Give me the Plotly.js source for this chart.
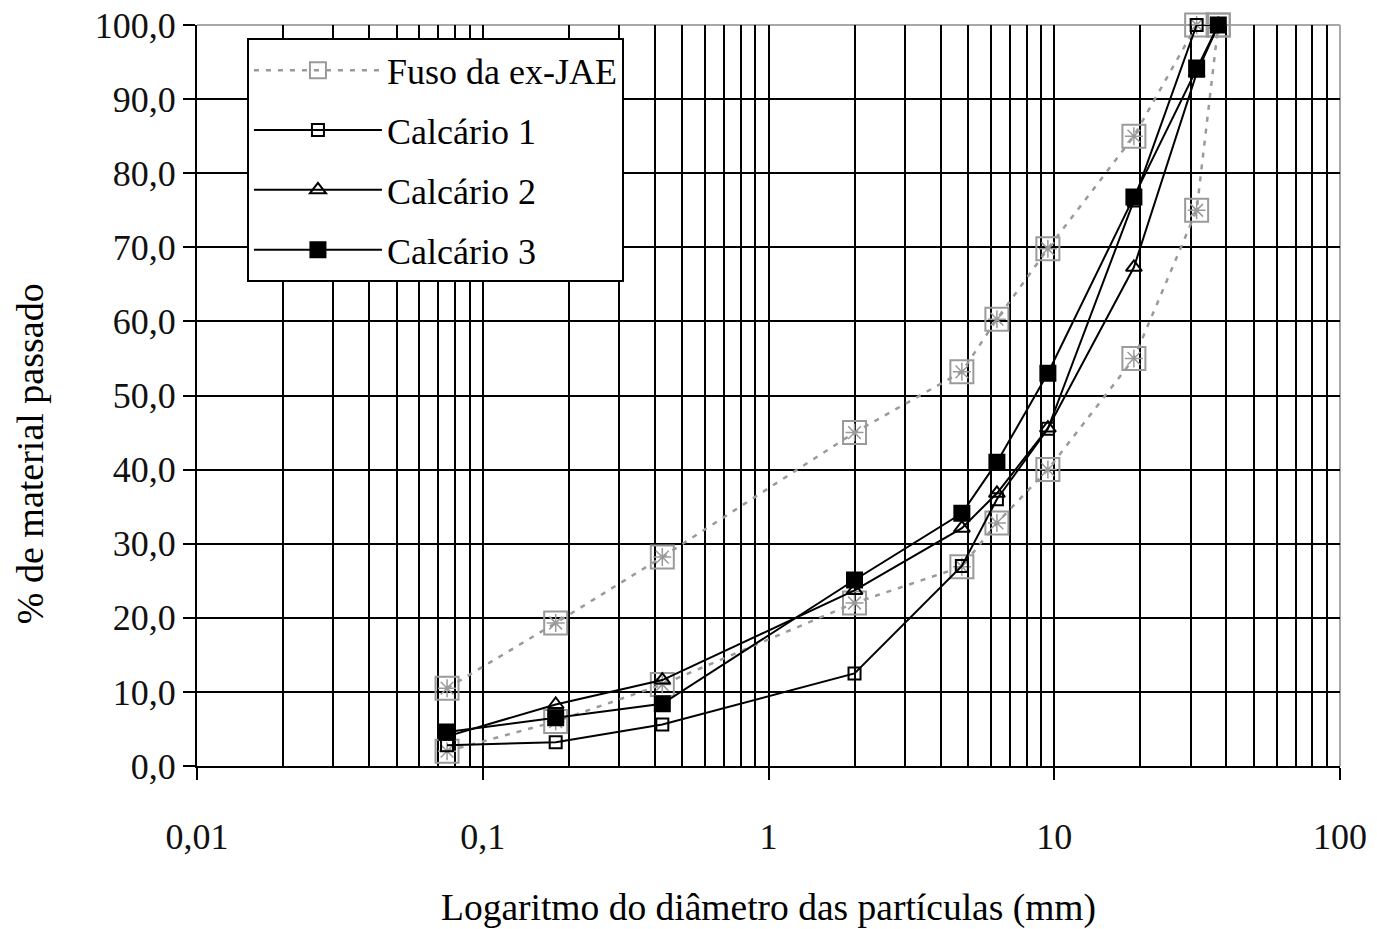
<!DOCTYPE html>
<html><head><meta charset="utf-8">
<script src="https://cdn.plot.ly/plotly-3.0.1.min.js"></script>
<style>html,body{margin:0;padding:0;background:#fff}#chart{width:1377px;height:929px}</style>
</head><body><div id="chart"></div>
<script>
// Sieve sizes (mm)
const sieves = [0.075, 0.18, 0.425, 2.0, 4.75, 6.3, 9.5, 19, 31.5, 37.5];
// Envelope (Fuso da ex-JAE)
const fusoUpper = [10.5, 19.3, 28.2, 45.0, 53.2, 60.3, 69.8, 85.0, 100, 100];
const fusoLower = [2.0, 6.0, 11.0, 22.0, 26.9, 32.8, 40.0, 55.0, 75.0, 100];
// Limestone gradings
const calc1 = [2.8, 3.2, 5.6, 12.5, 27.0, 36.0, 45.5, 76.3, 100, 100];
const calc2 = [4.0, 8.3, 11.6, 23.7, 32.1, 36.8, 45.6, 67.3, 93.5, 100];
const calc3 = [4.6, 6.5, 8.4, 25.1, 34.1, 41.0, 53.0, 76.8, 94.2, 100];
const seriesNames = ['Fuso da ex-JAE', 'Calcário 1', 'Calcário 2', 'Calcário 3'];
// Axis ticks
const xTickVals = [0.01, 0.1, 1, 10, 100];
const xTickText = ['0,01', '0,1', '1', '10', '100'];
const yTickVals = [0, 10, 20, 30, 40, 50, 60, 70, 80, 90, 100];
const yTickText = ['0,0', '10,0', '20,0', '30,0', '40,0', '50,0', '60,0', '70,0', '80,0', '90,0', '100,0'];
const xTitle = 'Logaritmo do diâmetro das partículas (mm)';
const yTitle = '% de material passado';

const gray = '#9a9a9a';
const serif = '"Liberation Serif", "Times New Roman", serif';

function fusoLine(y, show) {
  return {x: sieves, y: y, name: seriesNames[0], legendgroup: 'fuso', showlegend: show,
    mode: 'lines+markers', cliponaxis: false,
    line: {color: gray, width: 2.5, dash: '5px,7px'},
    marker: {symbol: 'square-open', size: 23, color: gray, line: {width: 2, color: gray}}};
}
function fusoStar(y) {
  return {x: sieves, y: y, mode: 'markers', showlegend: false, legendgroup: 'fuso', hoverinfo: 'skip',
    cliponaxis: false,
    marker: {symbol: 'asterisk-open', size: 15, color: gray, line: {width: 1.5, color: gray}}};
}
function calc(y, i, symbol, size) {
  return {x: sieves, y: y, name: seriesNames[i], legendgroup: 'c' + i, mode: 'lines+markers',
    cliponaxis: false,
    line: {color: '#000', width: 2},
    marker: {symbol: symbol, size: size, color: '#000', line: {width: 2, color: '#000'}}};
}

const data = [
  fusoLine(fusoUpper, true), fusoStar(fusoUpper),
  fusoLine(fusoLower, false), fusoStar(fusoLower),
  calc(calc1, 1, 'square-open', 12),
  calc(calc2, 2, 'triangle-up-open', 14),
  calc(calc3, 3, 'square', 15)
];

const layout = {
  width: 1377, height: 929,
  margin: {l: 197, r: 37, t: 25, b: 163},
  paper_bgcolor: '#fff', plot_bgcolor: '#fff',
  font: {family: serif, color: '#000'},
  showlegend: true,
  xaxis: {
    type: 'log', range: [-2, 2], tickmode: 'array', tickvals: xTickVals, ticktext: xTickText,
    ticks: 'outside', ticklen: 12, tickwidth: 2, tickcolor: '#000',
    showline: true, linecolor: '#000', linewidth: 2, zeroline: false,
    showgrid: true, gridcolor: '#000', gridwidth: 2,
    minor: {dtick: 'D1', showgrid: true, gridcolor: '#000', gridwidth: 2},
    tickfont: {size: 36, family: serif, color: '#111'}, ticklabelstandoff: 26,
    title: {text: xTitle, font: {size: 37.5, family: serif}, standoff: 40},
    automargin: false
  },
  yaxis: {
    range: [0, 100], tickmode: 'array', tickvals: yTickVals, ticktext: yTickText,
    ticks: 'outside', ticklen: 12, tickwidth: 2, tickcolor: '#000',
    showline: true, linecolor: '#000', linewidth: 2, zeroline: false,
    showgrid: true, gridcolor: '#000', gridwidth: 2,
    tickfont: {size: 36, family: serif, color: '#111'},
    automargin: false
  },
  annotations: [
    {text: yTitle, xref: 'paper', yref: 'paper', x: -0.146, y: 0.421, textangle: -90,
      showarrow: false, xanchor: 'center', yanchor: 'middle',
      font: {size: 38, family: serif, color: '#000'}}
  ],
  legend: {
    x: 0.0437, y: 0.982, xanchor: 'left', yanchor: 'top',
    bgcolor: '#fff', bordercolor: '#000', borderwidth: 2,
    font: {size: 36, family: serif, color: '#000'},
    traceorder: 'grouped', tracegroupgap: 10, itemwidth: 128
  },
  shapes: [
    {type: 'line', xref: 'paper', yref: 'paper', x0: 0, x1: 1, y0: 1, y1: 1, layer: 'between',
      line: {color: '#a8a8a8', width: 2}},
    {type: 'line', xref: 'paper', yref: 'paper', x0: 1, x1: 1, y0: 0, y1: 1, layer: 'between',
      line: {color: '#a8a8a8', width: 2}}
  ]
};

Plotly.newPlot('chart', data, layout, {displayModeBar: false, staticPlot: true});
</script>
</body></html>
